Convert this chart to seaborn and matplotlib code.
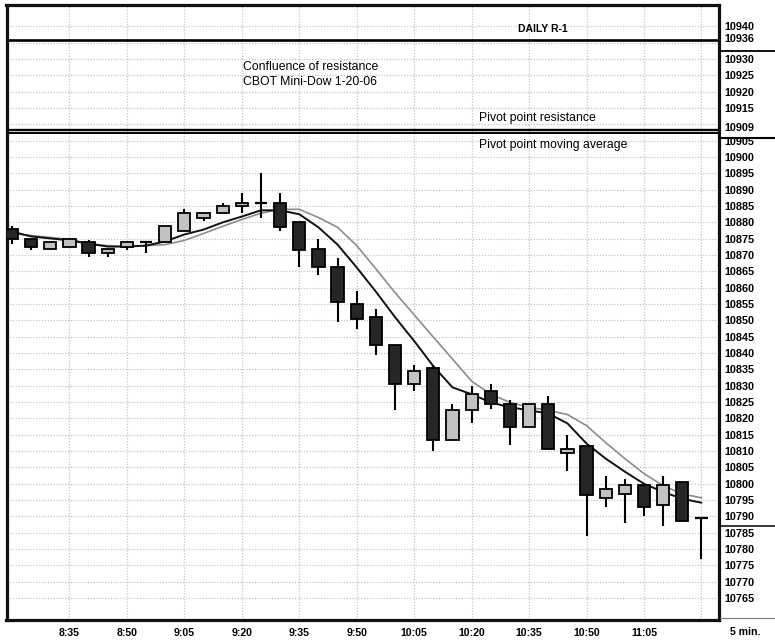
import matplotlib
matplotlib.use("Agg")
import matplotlib.pyplot as plt
import matplotlib.transforms as mtransforms
from matplotlib.patches import Rectangle
import numpy as np
import pandas as pd
import seaborn as sns

# ---------------- data ----------------
times = ["8:20", "8:25", "8:30", "8:35", "8:40", "8:45", "8:50", "8:55", "9:00",
         "9:05", "9:10", "9:15", "9:20", "9:25", "9:30", "9:35", "9:40", "9:45",
         "9:50", "9:55", "10:00", "10:05", "10:10", "10:15", "10:20", "10:25",
         "10:30", "10:35", "10:40", "10:45", "10:50", "10:55", "11:00", "11:05",
         "11:10", "11:15", "11:20"]
opens = [10878, 10875, 10872, 10872.5, 10874, 10870.5, 10872.5, 10874, 10874,
         10877.5, 10881.5, 10883, 10885, 10886, 10886, 10880, 10872, 10866.5,
         10855, 10851, 10842.5, 10830.5, 10835.5, 10813.5, 10822.5, 10828.5,
         10824.5, 10817.5, 10824.5, 10809.5, 10811.5, 10795.5, 10797, 10799.5,
         10793.5, 10800.5, 10789.5]
highs = [10879, 10875, 10874, 10875, 10874.5, 10872, 10874, 10874, 10879,
         10884, 10883, 10886, 10889, 10895, 10889, 10880, 10875, 10869,
         10859, 10853.5, 10842.5, 10836.5, 10836.5, 10824.5, 10830, 10830.5,
         10825.5, 10824.5, 10827, 10815, 10811.5, 10802.5, 10801.5, 10799.5,
         10802.5, 10800.5, 10789.5]
lows = [10873.5, 10871.5, 10872, 10872.5, 10869.5, 10869.5, 10871.5, 10870.5, 10874,
        10877.5, 10880.5, 10883, 10883, 10881.5, 10877.5, 10866.5, 10864, 10849.5,
        10847.5, 10839.5, 10822.5, 10828.5, 10810, 10813.5, 10818.5, 10823,
        10812, 10817.5, 10810.5, 10804, 10784, 10793, 10788, 10790,
        10787, 10788.5, 10777]
closes = [10875, 10872.5, 10874, 10875, 10870.5, 10872, 10874, 10874, 10879,
          10883, 10883, 10885, 10886, 10886, 10878.5, 10871.5, 10866.5, 10855.5,
          10850.5, 10842.5, 10830.5, 10834.5, 10813.5, 10822.5, 10827.5, 10824.5,
          10817.5, 10824.5, 10810.5, 10810.5, 10796.5, 10798.5, 10799.5, 10793,
          10799.5, 10788.5, 10789.5]
ma_fast = [10877.2, 10875.7, 10875.1, 10874.5, 10873.5, 10872.6, 10872.6, 10872.9, 10874.2,
           10876.3, 10877.8, 10880.0, 10881.8, 10883.7, 10883.7, 10882.5, 10878.5, 10873.2,
           10866.2, 10858.8, 10851.0, 10843.7, 10836.0, 10829.5, 10827.4, 10824.9,
           10823.4, 10822.5, 10821.5, 10818.5, 10812.3, 10807.7, 10803.7, 10800.0,
           10797.5, 10795.4, 10794.2]
ma_slow = [10876.6, 10876.0, 10875.4, 10874.8, 10873.5, 10872.9, 10872.6, 10872.9, 10873.2,
           10874.5, 10876.6, 10878.8, 10880.9, 10882.8, 10884.0, 10884.0, 10881.5, 10878.5,
           10872.9, 10865.8, 10858.5, 10851.7, 10844.9, 10838.2, 10831.4, 10827.4,
           10824.9, 10823.4, 10822.5, 10821.2, 10817.8, 10812.6, 10807.7, 10803.1,
           10799.4, 10796.9, 10795.7]

level_names = ["DAILY R-1", "Pivot point resistance", "Pivot point moving average"]
level_values = [10935.7, 10908.4, 10907.3]
marker_labels = ["10936", "10909"]
marker_values = [10936, 10909]
last_price = 10790

grid_values = list(range(10765, 10945, 5))
hidden_labels = [10935, 10910]

df = pd.DataFrame({"time": times, "open": opens, "high": highs, "low": lows,
                   "close": closes, "ma_fast": ma_fast, "ma_slow": ma_slow})
df["idx"] = np.arange(len(df))

# ---------------- style ----------------
sns.set_theme(style="white")
plt.rcParams["font.family"] = ["Liberation Sans", "DejaVu Sans"]
plt.rcParams["text.color"] = "black"

W, H = 775, 642
fig = plt.figure(figsize=(W / 100, H / 100), dpi=100)
ax = fig.add_axes([6.5 / W, 1 - 620 / H, (718.5 - 6.5) / W, (620 - 4.5) / H])
ax.set_xlim(-0.287, 36.89)
ax.set_ylim(10758.3, 10946.7)

# grid
for v in grid_values:
    ax.axhline(v, color="#c4c4c4", lw=0.9, ls=(0, (1, 1.3)), zorder=0)
for xi in range(3, 37, 3):
    ax.axvline(xi, color="#c4c4c4", lw=0.9, ls=(0, (1, 1.3)), zorder=0)

# level lines
ax.axhline(level_values[0], color="black", lw=1.9, zorder=1)
ax.axhline(level_values[1], color="black", lw=1.7, zorder=1)
ax.axhline(level_values[2], color="black", lw=1.4, zorder=1)

# moving averages
sns.lineplot(data=df, x="idx", y="ma_slow", ax=ax, color="#8c8c8c", lw=1.2, zorder=2)
sns.lineplot(data=df, x="idx", y="ma_fast", ax=ax, color="#111111", lw=1.4, zorder=2)

# candles
bw = 0.64
for _, r in df.iterrows():
    ax.vlines(r["idx"], r["low"], r["high"], color="black", lw=1.5, zorder=3)
    if r["open"] == r["close"]:
        ax.hlines(r["open"], r["idx"] - bw / 2, r["idx"] + bw / 2, color="black", lw=1.6, zorder=4)
    else:
        up = r["close"] > r["open"]
        ax.bar(r["idx"], abs(r["close"] - r["open"]), bottom=min(r["open"], r["close"]),
               width=bw, color="#c2c2c2" if up else "#262626", edgecolor="black",
               linewidth=1.3, zorder=4)

# annotations
ax.text(27.7, 10939.2, level_names[0], ha="center", va="center", fontsize=7.5,
        fontweight="bold", color="black")
ax.text(12.06, 10927.5, "Confluence of resistance", ha="left", va="center", fontsize=8.8, color="black")
ax.text(12.06, 10923.0, "CBOT Mini-Dow 1-20-06", ha="left", va="center", fontsize=8.8, color="black")
ax.text(24.4, 10912.0, level_names[1], ha="left", va="center", fontsize=8.8, color="black")
ax.text(24.4, 10903.7, level_names[2], ha="left", va="center", fontsize=8.8, color="black")

# axes / ticks
ax.set_xlabel("")
ax.set_ylabel("")
for s in ax.spines.values():
    s.set_visible(True)
    s.set_color("#111111")
    s.set_linewidth(2.3)

xt = list(range(3, 37, 3))
ax.set_xticks(xt)
ax.set_xticklabels([times[i] if i <= 33 else "" for i in xt], fontsize=7.6, fontweight="bold")
ax.yaxis.tick_right()
ax.set_yticks(grid_values)
ax.set_yticklabels(["" if v in hidden_labels else str(v) for v in grid_values],
                   fontsize=7.8, fontweight="bold")
ax.tick_params(axis="y", length=0, pad=4, colors="black")
ax.tick_params(axis="x", length=0, pad=5.5, colors="black")

# right label area markers
bt = mtransforms.blended_transform_factory(ax.transAxes, ax.transData)
# partially hidden labels
ax.add_patch(Rectangle((1.004, 10905.6), 0.1, 1.9, transform=bt, facecolor="white",
                       edgecolor="none", clip_on=False, zorder=5))
ax.add_patch(Rectangle((1.004, 10801.0), 0.1, 2.0, transform=bt, facecolor="white",
                       edgecolor="none", clip_on=False, zorder=5))
for lab, v in zip(marker_labels, marker_values):
    ax.text(1.0078, v, lab, transform=bt, ha="left", va="center", fontsize=7.8,
            fontweight="bold", clip_on=False, zorder=6, color="black")
ax.plot([1.002, 1.1], [10932.4, 10932.4], transform=bt, color="black", lw=1.3, clip_on=False, zorder=6)
ax.plot([1.002, 1.1], [10905.8, 10905.8], transform=bt, color="black", lw=1.5, clip_on=False, zorder=6)
ax.plot([1.002, 1.1], [last_price - 3.0, last_price - 3.0], transform=bt, color="black", lw=1.1,
        clip_on=False, zorder=6)
ax.plot([1.002, 1.1], [10758.8, 10758.8], transform=bt, color="#777777", lw=0.8, clip_on=False, zorder=6)

fig.text(745 / W, 1 - 632 / H, "5 min.", ha="center", va="center", fontsize=7.6, fontweight="bold",
         color="black")

fig.savefig("out.png", dpi=100, facecolor="white")
